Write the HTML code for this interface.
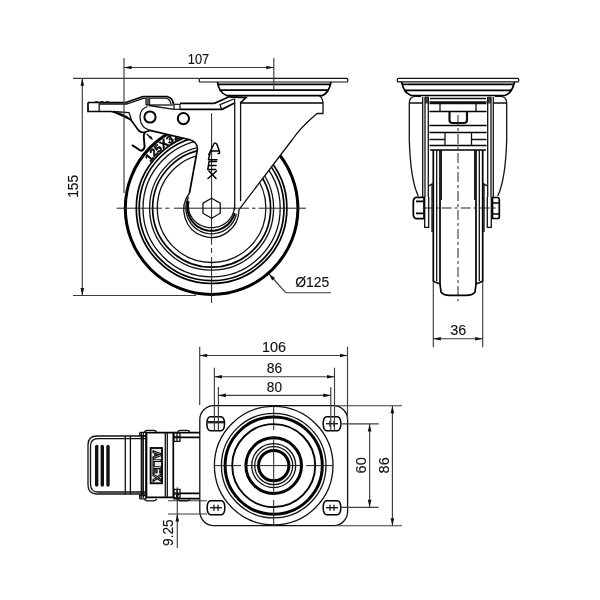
<!DOCTYPE html>
<html><head><meta charset="utf-8"><style>
html,body{margin:0;padding:0;background:#fff;width:600px;height:600px;overflow:hidden}
svg{display:block;will-change:transform}
text{font-family:"Liberation Sans",sans-serif;fill:#111;stroke:#111;stroke-width:0.12px}
</style></head><body>
<svg width="600" height="600" viewBox="0 0 600 600">
<rect width="600" height="600" fill="#fff"/>
<circle cx="211.6" cy="208.2" r="86.3" stroke="#000" stroke-width="3" fill="none"/>
<circle cx="211.6" cy="208.2" r="75.3" stroke="#000" stroke-width="1.7" fill="none"/>
<circle cx="211.6" cy="208.2" r="72.4" stroke="#000" stroke-width="1.7" fill="none"/>
<circle cx="211.6" cy="208.2" r="68.6" stroke="#111" stroke-width="1.3" fill="none"/>
<circle cx="211.6" cy="208.2" r="62" stroke="#111" stroke-width="1.3" fill="none"/>
<circle cx="211.6" cy="208.2" r="59" stroke="#000" stroke-width="1.7" fill="none"/>
<circle cx="211.6" cy="208.2" r="54.3" stroke="#111" stroke-width="1.3" fill="none"/>
<text x="152.24" y="159.79" text-anchor="middle" font-size="11" font-weight="bold" transform="rotate(309.2 152.24 159.79)" style="fill:#000;stroke:#000;stroke-width:0.55px">1</text>
<text x="156.41" y="155.09" text-anchor="middle" font-size="11" font-weight="bold" transform="rotate(313.9 156.41 155.09)" style="fill:#000;stroke:#000;stroke-width:0.55px">2</text>
<text x="160.54" y="151.10" text-anchor="middle" font-size="11" font-weight="bold" transform="rotate(318.2 160.54 151.10)" style="fill:#000;stroke:#000;stroke-width:0.55px">5</text>
<text x="165.93" y="146.70" text-anchor="middle" font-size="11" font-weight="bold" transform="rotate(323.4 165.93 146.70)" style="fill:#000;stroke:#000;stroke-width:0.55px">X</text>
<text x="171.92" y="142.68" text-anchor="middle" font-size="11" font-weight="bold" transform="rotate(328.8 171.92 142.68)" style="fill:#000;stroke:#000;stroke-width:0.55px">3</text>
<text x="177.78" y="139.47" text-anchor="middle" font-size="11" font-weight="bold" transform="rotate(333.8 177.78 139.47)" style="fill:#000;stroke:#000;stroke-width:0.55px">2</text>
<path d="M 100 55 L 100 122 L 131 120 L 139 131 L 144 132.5 L 150 130.5 L 189 139.5 Q 197.5 141.5 197.5 149 L 189.5 193 A 27.6 27.6 0 1 0 239 209.6 L 292 140 Q 300 128 317 113.5 L 323 113.5 L 360 113.5 L 360 55 Z" fill="#fff" stroke="none"/>
<line x1="116.7" y1="208.2" x2="162" y2="208.2" stroke="#222" stroke-width="1"/>
<line x1="165.3" y1="208.2" x2="169.3" y2="208.2" stroke="#222" stroke-width="1"/>
<line x1="174" y1="208.2" x2="249" y2="208.2" stroke="#222" stroke-width="1"/>
<line x1="252" y1="208.2" x2="255.5" y2="208.2" stroke="#222" stroke-width="1"/>
<line x1="258.5" y1="208.2" x2="306" y2="208.2" stroke="#222" stroke-width="1"/>
<line x1="211.6" y1="113.3" x2="211.6" y2="244.7" stroke="#222" stroke-width="1"/>
<line x1="211.6" y1="248" x2="211.6" y2="253" stroke="#222" stroke-width="1"/>
<line x1="211.6" y1="257" x2="211.6" y2="303" stroke="#222" stroke-width="1"/>
<path d="M 189.5 193 A 27.6 27.6 0 1 0 239 209.6" stroke="#111" stroke-width="1.3" fill="none"/>
<path d="M 188.49 196.98 L 187.38 199.63 L 186.57 202.38 L 186.07 205.21 L 185.90 208.08 L 186.05 210.95 L 186.52 213.78 L 187.30 216.55 L 188.39 219.21 L 189.77 221.73 L 191.42 224.08 L 193.32 226.23 L 195.46 228.15 L 197.80 229.82 L 200.30 231.22 L 202.95 232.33 L 205.71 233.14 L 208.54 233.63 L 211.41 233.80 L 214.28 233.65 L 217.11 233.18 L 219.88 232.39 L 222.53 231.30 L 225.05 229.92 L 227.40 228.26 L 229.55 226.35 L 231.47 224.22 L 233.14 221.88 L 234.54 219.37 L 235.64 216.72 L 236.44 213.96" stroke="#111" stroke-width="1.3" fill="none"/>
<path d="M 188.33 200.82 L 187.76 203.25 L 187.45 205.72 L 187.42 208.20 L 187.65 210.68 L 188.15 213.12 L 188.91 215.49 L 189.92 217.77 L 191.17 219.94 L 192.64 221.96 L 194.33 223.82 L 196.21 225.49 L 198.26 226.96 L 200.45 228.21 L 202.77 229.23 L 205.19 230.00 L 207.67 230.51 L 210.20 230.77 L 212.74 230.76 L 215.26 230.49 L 217.75 229.96 L 220.16 229.18 L 222.47 228.15 L 224.66 226.89 L 226.70 225.41 L 228.57 223.72 L 230.24 221.85 L 231.71 219.82 L 232.95 217.65 L 233.94 215.36 L 234.69 212.99" stroke="#000" stroke-width="2" fill="none"/>
<path d="M 188.90 201.73 L 188.51 204.08 L 188.40 206.45 L 188.57 208.82 L 189.02 211.16 L 189.74 213.44 L 190.73 215.62 L 191.97 217.70 L 193.44 219.63 L 195.14 221.40 L 197.03 222.99 L 199.10 224.37 L 201.32 225.52 L 203.66 226.45 L 206.10 227.12 L 208.60 227.54 L 211.13 227.70 L 213.67 227.59 L 216.18 227.23 L 218.63 226.61 L 221.00 225.74 L 223.25 224.63 L 225.35 223.30 L 227.28 221.75 L 229.02 220.02 L 230.54 218.12 L 231.83 216.07 L 232.87 213.90 L 233.65 211.64 L 234.16 209.32 L 234.39 206.95" stroke="#111" stroke-width="1.3" fill="none"/>
<polygon points="211.60,198.20 220.26,203.20 220.26,213.20 211.60,218.20 202.94,213.20 202.94,203.20" stroke="#111" stroke-width="1.3" fill="none"/>
<path d="M 189 139.5 Q 197.5 141.5 197.5 149 L 189.5 193" stroke="#000" stroke-width="1.7" fill="none"/>
<path d="M 234.7 103 L 234.7 210" stroke="#111" stroke-width="1.3" fill="none"/>
<path d="M 240.6 101.7 L 240.6 201" stroke="#111" stroke-width="1.3" fill="none"/>
<path d="M 239 209.6 L 292 140 Q 300 128 317 113.5 L 323 113.5 L 323 102 Q 322 96.5 318.5 95.5" stroke="#111" stroke-width="1.3" fill="none"/>
<path d="M 240.6 103 L 323 103" stroke="#000" stroke-width="1.7" fill="none"/>
<path d="M 208.8 154.5 L 213.8 144 Q 215.5 142 217 144.5 L 219.5 151.5 Q 220 154 218 153.5 M 210.5 151 L 218 151" stroke="#000" stroke-width="1.5" fill="none" stroke-linecap="round" stroke-linejoin="round"/>
<path d="M 210 152.5 L 208.5 159.8 L 217 159.8" stroke="#000" stroke-width="1.5" fill="none" stroke-linecap="round" stroke-linejoin="round"/>
<path d="M 216.5 161.5 L 209 161.5 L 207.8 169.5 L 215.8 169.5 M 208.5 165.5 L 216 165.5" stroke="#000" stroke-width="1.5" fill="none" stroke-linecap="round" stroke-linejoin="round"/>
<path d="M 208 178.5 L 216.5 171 M 209 171 L 216 178.5" stroke="#000" stroke-width="1.5" fill="none" stroke-linecap="round" stroke-linejoin="round"/>
<rect x="199.2" y="78.3" width="148.6" height="3.7" rx="1" fill="#fff" stroke="#111" stroke-width="1.2"/>
<path d="M 217.5 82 Q 219 93 227 95.7 L 322 95.7 Q 329 93 331 82" stroke="#000" stroke-width="1.7" fill="none"/>
<path d="M 217 84.4 L 330.5 84.4" stroke="#000" stroke-width="1.7" fill="none"/>
<path d="M 219.5 90.2 L 328.5 90.2" stroke="#000" stroke-width="1.7" fill="none"/>
<path d="M 88 102.5 L 126 102.5 L 143 96.5 L 167 96.5 Q 172.5 97.5 173.5 104" stroke="#000" stroke-width="1.7" fill="none"/>
<path d="M 99.2 104 L 126.5 104 L 144 98.2 L 166 98.2 Q 170 99 171 104" stroke="#111" stroke-width="1.3" fill="none"/>
<path d="M 88 102.5 L 88 111.5 L 111 111.5 Q 124 113.5 131 120 L 139 131 Q 141 132.5 144 132.5 L 150 130.5 L 189 139.5" stroke="#000" stroke-width="1.7" fill="none"/>
<path d="M 99.2 102.5 L 99.2 111.5" stroke="#111" stroke-width="1.3" fill="none"/>
<path d="M 94.2 103 A 2.3 2.1 0 0 1 98.8 103 Z" fill="#111"/>
<path d="M 99.7 103 A 2.3 2.1 0 0 1 104.3 103 Z" fill="#111"/>
<path d="M 105.2 103 A 2.3 2.1 0 0 1 109.8 103 Z" fill="#111"/>
<path d="M 113 111.5 L 129 112.5 L 131.5 120" stroke="#111" stroke-width="1.3" fill="none"/>
<path d="M 113 111.5 L 131.5 120" stroke="#000" stroke-width="1.7" fill="none"/>
<path d="M 146 98 L 146 105 M 149.5 98 L 149.5 105" stroke="#111" stroke-width="1.3" fill="none"/>
<rect x="146" y="98" width="3.5" height="7" fill="#555"/>
<path d="M 146 105 L 173.5 105" stroke="#111" stroke-width="1.3" fill="none"/>
<path d="M 149 105.5 L 174 109.3" stroke="#111" stroke-width="1.3" fill="none"/>
<rect x="174" y="104.3" width="6" height="5" fill="#fff" stroke="#111" stroke-width="1.2"/>
<path d="M 180 103.3 L 214.5 103.3 L 229 96.8 L 246 97.6 L 240.8 102.5 M 180 109.3 L 222 109.3 L 234.6 103" stroke="#000" stroke-width="1.7" fill="none"/>
<path d="M 220 104.6 L 233.8 99 M 219.8 104.3 L 221.5 109 M 234.6 98.5 L 234.6 104" stroke="#111" stroke-width="1.3" fill="none"/>
<path d="M 147.5 106.5 Q 140 109 140 117 Q 140.5 125 145 128 L 150 130.5" stroke="#111" stroke-width="1.3" fill="none"/>
<circle cx="150" cy="117" r="5.6" stroke="#000" stroke-width="2" fill="none"/>
<circle cx="183.4" cy="118.6" r="5.6" stroke="#000" stroke-width="2" fill="none"/>
<path d="M 145 132.5 Q 143.5 134 143.8 137 L 144.6 147 Q 144 150 140.8 150.8 L 132.5 145.4" stroke="#000" stroke-width="1.9" fill="none" stroke-linecap="round"/>
<path d="M 146.7 134 L 152 139" stroke="#111" stroke-width="1.3" fill="none"/>
<path d="M153.00 140.00 L148.69 137.95 L150.95 135.69 Z" fill="#111" stroke="none"/>
<line x1="124" y1="58" x2="124" y2="193" stroke="#3c3c3c" stroke-width="1.15" fill="none"/>
<line x1="273.8" y1="58" x2="273.8" y2="89" stroke="#3c3c3c" stroke-width="1.15" fill="none"/>
<line x1="124" y1="67.5" x2="273.8" y2="67.5" stroke="#3c3c3c" stroke-width="1.15" fill="none"/>
<path d="M124.00 67.50 L131.50 65.70 L131.50 69.30 Z" fill="#111" stroke="none"/>
<path d="M273.80 67.50 L266.30 69.30 L266.30 65.70 Z" fill="#111" stroke="none"/>
<text x="198.5" y="63.6" font-size="14.5" text-anchor="middle" textLength="21.5" lengthAdjust="spacingAndGlyphs" >107</text>
<line x1="73" y1="78.3" x2="199" y2="78.3" stroke="#3c3c3c" stroke-width="1.15" fill="none"/>
<line x1="73" y1="295.5" x2="196" y2="295.5" stroke="#3c3c3c" stroke-width="1.15" fill="none"/>
<line x1="82.3" y1="78.3" x2="82.3" y2="295.5" stroke="#3c3c3c" stroke-width="1.15" fill="none"/>
<path d="M82.30 78.30 L84.10 85.80 L80.50 85.80 Z" fill="#111" stroke="none"/>
<path d="M82.30 295.50 L80.50 288.00 L84.10 288.00 Z" fill="#111" stroke="none"/>
<text x="78.4" y="186.3" font-size="14.5" text-anchor="middle" textLength="23" lengthAdjust="spacingAndGlyphs" transform="rotate(-90 78.4 186.3)" >155</text>
<line x1="269" y1="274" x2="285.7" y2="292.7" stroke="#3c3c3c" stroke-width="1.15" fill="none"/>
<line x1="285.7" y1="292.7" x2="331" y2="292.7" stroke="#3c3c3c" stroke-width="1.15" fill="none"/>
<path d="M269.00 274.00 L275.15 277.89 L272.17 280.55 Z" fill="#111" stroke="none"/>
<text x="295.3" y="286.9" font-size="14.5" text-anchor="start" textLength="34" lengthAdjust="spacingAndGlyphs" >Ø125</text>
<rect x="397.3" y="78.3" width="121.4" height="3.6" rx="1" fill="#fff" stroke="#111" stroke-width="1.2"/>
<path d="M 401.5 82 Q 404 93 411 95.5 L 505 95.5 Q 512 93 514.5 82" stroke="#000" stroke-width="1.7" fill="none"/>
<path d="M 402 84.4 L 514 84.4 M 404 90.3 L 512 90.3" stroke="#000" stroke-width="1.7" fill="none"/>
<path d="M 421 96.3 L 415 96.3 Q 409.3 97 409.3 103 L 409.3 140 Q 410.5 180 418.3 196 M 409.3 103 L 422.7 103" stroke="#111" stroke-width="1.3" fill="none"/>
<path d="M 495 96.3 L 501 96.3 Q 506.7 97 506.7 103 L 506.7 140 Q 505.5 180 497.7 196 M 506.7 103 L 493.3 103" stroke="#111" stroke-width="1.3" fill="none"/>
<rect x="425" y="96.5" width="3.5" height="7" fill="#444"/>
<rect x="487.5" y="96.5" width="3.5" height="7" fill="#444"/>
<path d="M 422.7 97 L 422.7 197" stroke="#111" stroke-width="1.3" fill="none"/>
<path d="M 425 97 L 425 197" stroke="#111" stroke-width="1.3" fill="none"/>
<path d="M 428.3 97 L 428.3 197" stroke="#111" stroke-width="1.3" fill="none"/>
<path d="M 493.3 97 L 493.3 197" stroke="#111" stroke-width="1.3" fill="none"/>
<path d="M 491 97 L 491 197" stroke="#111" stroke-width="1.3" fill="none"/>
<path d="M 487.7 97 L 487.7 197" stroke="#111" stroke-width="1.3" fill="none"/>
<path d="M 424.7 197 L 424.7 227.3 L 428.7 227.3 L 428.7 197" stroke="#111" stroke-width="1.3" fill="none"/>
<path d="M 428.7 186 L 432 184 L 432 232" stroke="#111" stroke-width="1.3" fill="none"/>
<path d="M 491.3 197 L 491.3 227.3 L 487.3 227.3 L 487.3 197" stroke="#111" stroke-width="1.3" fill="none"/>
<path d="M 487.3 186 L 484 184 L 484 232" stroke="#111" stroke-width="1.3" fill="none"/>
<path d="M 416 197.3 L 424 197.3 L 424 218.7 L 416 218.7 Q 413.3 218 413.3 214 L 413.3 202 Q 413.3 198 416 197.3 M 416 201.3 L 424 201.3 M 416 213.3 L 424 213.3" stroke="#000" stroke-width="1.7" fill="none"/>
<path d="M 492.5 197.5 L 498 197.5 Q 499.3 198 499.3 199.5 L 499.3 216.5 Q 499.3 218.5 498 218.5 L 492.5 218.5 Z M 492.5 203 L 499.3 203 M 492.5 214 L 499.3 214" stroke="#000" stroke-width="1.7" fill="none"/>
<path d="M 430 98.5 L 486 98.5" stroke="#111" stroke-width="1.3" fill="none"/>
<path d="M 429.5 102 L 486.5 102 M 429.5 103.5 L 486.5 103.5" stroke="#111" stroke-width="1.3" fill="none"/>
<path d="M 440 103.5 L 440 111.5 M 476 103.5 L 476 111.5" stroke="#111" stroke-width="1.3" fill="none"/>
<path d="M 429.5 111.5 L 486.5 111.5 M 429.5 125.5 L 486.5 125.5 M 429.5 132.5 L 486.5 132.5" stroke="#000" stroke-width="1.7" fill="none"/>
<path d="M 429.5 139.5 L 445 139.5 M 471.5 139.5 L 486.5 139.5" stroke="#111" stroke-width="1.3" fill="none"/>
<path d="M 429.5 145.5 L 486.5 145.5" stroke="#000" stroke-width="1.7" fill="none"/>
<path d="M 445 132.5 L 445 145.5 M 471.5 132.5 L 471.5 145.5" stroke="#111" stroke-width="1.3" fill="none"/>
<path d="M 430 150 L 486 150" stroke="#000" stroke-width="1.7" fill="none"/>
<path d="M 449.5 111.5 L 449.5 120 Q 449.5 123 452.5 123 L 464 123 Q 467 123 467 120 L 467 111.5" stroke="#111" stroke-width="2.2" fill="none"/>
<path d="M 433.3 150 L 433.3 281.3 L 440 284 L 441 292 Q 443 295.3 450 295.3 L 466 295.3 Q 473 295.3 475 292 L 476 284 L 482.7 281.3 L 482.7 150" stroke="#000" stroke-width="1.7" fill="none"/>
<path d="M 436.7 150 L 436.7 281 M 479.3 150 L 479.3 281" stroke="#111" stroke-width="1.3" fill="none"/>
<path d="M 440 150 L 440 284 M 476 150 L 476 284" stroke="#000" stroke-width="1.7" fill="none"/>
<path d="M 441.3 150 L 441.3 200 M 474.7 150 L 474.7 200" stroke="#111" stroke-width="1.3" fill="none"/>
<line x1="458" y1="115" x2="458" y2="301.3" stroke="#222" stroke-width="1" stroke-dasharray="10 3 3 3"/>
<line x1="422.7" y1="208" x2="500" y2="208" stroke="#222" stroke-width="1" stroke-dasharray="10 3 3 3"/>
<line x1="433.3" y1="282" x2="433.3" y2="347.3" stroke="#3c3c3c" stroke-width="1.15" fill="none"/>
<line x1="482.7" y1="282" x2="482.7" y2="347.3" stroke="#3c3c3c" stroke-width="1.15" fill="none"/>
<line x1="433.3" y1="338.7" x2="482.7" y2="338.7" stroke="#3c3c3c" stroke-width="1.15" fill="none"/>
<path d="M433.30 338.70 L440.80 336.90 L440.80 340.50 Z" fill="#111" stroke="none"/>
<path d="M482.70 338.70 L475.20 340.50 L475.20 336.90 Z" fill="#111" stroke="none"/>
<text x="458.3" y="335" font-size="14.5" text-anchor="middle" textLength="16" lengthAdjust="spacingAndGlyphs" >36</text>
<rect x="199.8" y="405.6" width="147.8" height="120" rx="14" fill="#fff" stroke="#111" stroke-width="1.3"/>
<circle cx="273.7" cy="465.6" r="59.3" stroke="#111" stroke-width="1.3" fill="none"/>
<circle cx="273.7" cy="465.6" r="52.3" stroke="#111" stroke-width="1.3" fill="none"/>
<circle cx="273.7" cy="465.6" r="48.6" stroke="#000" stroke-width="3" fill="none"/>
<circle cx="273.7" cy="465.6" r="41.5" stroke="#000" stroke-width="1.9" fill="none"/>
<circle cx="273.7" cy="465.6" r="27.8" stroke="#000" stroke-width="3" fill="none"/>
<circle cx="273.7" cy="465.6" r="22" stroke="#111" stroke-width="1.3" fill="none"/>
<circle cx="273.7" cy="465.6" r="19" stroke="#111" stroke-width="1.3" fill="none"/>
<circle cx="273.7" cy="465.6" r="15.2" stroke="#000" stroke-width="3" fill="none"/>
<line x1="214.3" y1="465.6" x2="241" y2="465.6" stroke="#222" stroke-width="1"/>
<line x1="245" y1="465.6" x2="302" y2="465.6" stroke="#222" stroke-width="1"/>
<line x1="306" y1="465.6" x2="333" y2="465.6" stroke="#222" stroke-width="1"/>
<line x1="273.7" y1="406" x2="273.7" y2="430" stroke="#222" stroke-width="1"/>
<line x1="273.7" y1="436" x2="273.7" y2="495" stroke="#222" stroke-width="1"/>
<line x1="273.7" y1="500" x2="273.7" y2="526" stroke="#222" stroke-width="1"/>
<path d="M 210.2 416.7 L 221.2 416.7 Q 224.5 417.2 224.5 423.7 Q 224.5 430.2 221.2 430.7 L 210.2 430.7 Q 206.89999999999998 430.2 206.89999999999998 423.7 Q 206.89999999999998 417.2 210.2 416.7 Z" fill="#fff" stroke="#000" stroke-width="1.5"/>
<path d="M 326.5 416.7 L 337.5 416.7 Q 340.8 417.2 340.8 423.7 Q 340.8 430.2 337.5 430.7 L 326.5 430.7 Q 323.2 430.2 323.2 423.7 Q 323.2 417.2 326.5 416.7 Z" fill="#fff" stroke="#000" stroke-width="1.5"/>
<path d="M 210.5 500.7 L 221.5 500.7 Q 224.8 501.2 224.8 507.7 Q 224.8 514.2 221.5 514.7 L 210.5 514.7 Q 207.2 514.2 207.2 507.7 Q 207.2 501.2 210.5 500.7 Z" fill="#fff" stroke="#000" stroke-width="1.5"/>
<path d="M 326.5 500.7 L 337.5 500.7 Q 340.8 501.2 340.8 507.7 Q 340.8 514.2 337.5 514.7 L 326.5 514.7 Q 323.2 514.2 323.2 507.7 Q 323.2 501.2 326.5 500.7 Z" fill="#fff" stroke="#000" stroke-width="1.5"/>
<rect x="207.5" y="421" width="16.5" height="2.4" fill="#222"/>
<line x1="326" y1="423.7" x2="338" y2="423.7" stroke="#111" stroke-width="1.3" fill="none"/>
<line x1="330" y1="420.7" x2="330" y2="426.7" stroke="#111" stroke-width="1.3" fill="none"/>
<line x1="334" y1="420.7" x2="334" y2="426.7" stroke="#111" stroke-width="1.3" fill="none"/>
<line x1="210" y1="507.7" x2="222" y2="507.7" stroke="#111" stroke-width="1.3" fill="none"/>
<line x1="214" y1="504.7" x2="214" y2="510.7" stroke="#111" stroke-width="1.3" fill="none"/>
<line x1="218" y1="504.7" x2="218" y2="510.7" stroke="#111" stroke-width="1.3" fill="none"/>
<line x1="326" y1="507.7" x2="338" y2="507.7" stroke="#111" stroke-width="1.3" fill="none"/>
<line x1="330" y1="504.7" x2="330" y2="510.7" stroke="#111" stroke-width="1.3" fill="none"/>
<line x1="334" y1="504.7" x2="334" y2="510.7" stroke="#111" stroke-width="1.3" fill="none"/>
<line x1="199.7" y1="346.7" x2="199.7" y2="405" stroke="#3c3c3c" stroke-width="1.15" fill="none"/>
<line x1="347.5" y1="346.7" x2="347.5" y2="420" stroke="#3c3c3c" stroke-width="1.15" fill="none"/>
<line x1="199.7" y1="355.5" x2="347.5" y2="355.5" stroke="#3c3c3c" stroke-width="1.15" fill="none"/>
<path d="M199.70 355.50 L207.20 353.70 L207.20 357.30 Z" fill="#111" stroke="none"/>
<path d="M347.50 355.50 L340.00 357.30 L340.00 353.70 Z" fill="#111" stroke="none"/>
<text x="274" y="352.2" font-size="14.5" text-anchor="middle" textLength="24" lengthAdjust="spacingAndGlyphs" >106</text>
<line x1="214.4" y1="367.7" x2="214.4" y2="431" stroke="#3c3c3c" stroke-width="1.15" fill="none"/>
<line x1="334.5" y1="367.7" x2="334.5" y2="431" stroke="#3c3c3c" stroke-width="1.15" fill="none"/>
<line x1="214.4" y1="376.7" x2="334.5" y2="376.7" stroke="#3c3c3c" stroke-width="1.15" fill="none"/>
<path d="M214.40 376.70 L221.90 374.90 L221.90 378.50 Z" fill="#111" stroke="none"/>
<path d="M334.50 376.70 L327.00 378.50 L327.00 374.90 Z" fill="#111" stroke="none"/>
<text x="274.5" y="373" font-size="14.5" text-anchor="middle" textLength="15.4" lengthAdjust="spacingAndGlyphs" >86</text>
<line x1="218.4" y1="387" x2="218.4" y2="431" stroke="#3c3c3c" stroke-width="1.15" fill="none"/>
<line x1="330.8" y1="387" x2="330.8" y2="431" stroke="#3c3c3c" stroke-width="1.15" fill="none"/>
<line x1="218.4" y1="395.4" x2="330.8" y2="395.4" stroke="#3c3c3c" stroke-width="1.15" fill="none"/>
<path d="M218.40 395.40 L225.90 393.60 L225.90 397.20 Z" fill="#111" stroke="none"/>
<path d="M330.80 395.40 L323.30 397.20 L323.30 393.60 Z" fill="#111" stroke="none"/>
<text x="274.4" y="391.8" font-size="14.5" text-anchor="middle" textLength="15.2" lengthAdjust="spacingAndGlyphs" >80</text>
<line x1="340" y1="423.9" x2="378.7" y2="423.9" stroke="#3c3c3c" stroke-width="1.15" fill="none"/>
<line x1="340" y1="507.3" x2="378.7" y2="507.3" stroke="#3c3c3c" stroke-width="1.15" fill="none"/>
<line x1="369.6" y1="423.9" x2="369.6" y2="507.3" stroke="#3c3c3c" stroke-width="1.15" fill="none"/>
<path d="M369.60 423.90 L371.40 431.40 L367.80 431.40 Z" fill="#111" stroke="none"/>
<path d="M369.60 507.30 L367.80 499.80 L371.40 499.80 Z" fill="#111" stroke="none"/>
<text x="365.7" y="465.3" font-size="14.5" text-anchor="middle" textLength="16.2" lengthAdjust="spacingAndGlyphs" transform="rotate(-90 365.7 465.3)" >60</text>
<line x1="334" y1="405.7" x2="402" y2="405.7" stroke="#3c3c3c" stroke-width="1.15" fill="none"/>
<line x1="334" y1="525.7" x2="402" y2="525.7" stroke="#3c3c3c" stroke-width="1.15" fill="none"/>
<line x1="392.4" y1="405.7" x2="392.4" y2="525.7" stroke="#3c3c3c" stroke-width="1.15" fill="none"/>
<path d="M392.40 405.70 L394.20 413.20 L390.60 413.20 Z" fill="#111" stroke="none"/>
<path d="M392.40 525.70 L390.60 518.20 L394.20 518.20 Z" fill="#111" stroke="none"/>
<text x="389.1" y="465.3" font-size="14.5" text-anchor="middle" textLength="16.2" lengthAdjust="spacingAndGlyphs" transform="rotate(-90 389.1 465.3)" >86</text>
<line x1="168" y1="500.7" x2="207" y2="500.7" stroke="#3c3c3c" stroke-width="1.15" fill="none"/>
<line x1="168" y1="514" x2="207" y2="514" stroke="#3c3c3c" stroke-width="1.15" fill="none"/>
<line x1="177.3" y1="487.3" x2="177.3" y2="548" stroke="#3c3c3c" stroke-width="1.15" fill="none"/>
<path d="M177.30 514.00 L179.10 521.50 L175.50 521.50 Z" fill="#111" stroke="none"/>
<path d="M177.30 500.70 L175.50 493.20 L179.10 493.20 Z" fill="#111" stroke="none"/>
<text x="172.9" y="532.6" font-size="14.5" text-anchor="middle" textLength="26.6" lengthAdjust="spacingAndGlyphs" transform="rotate(-90 172.9 532.6)" >9.25</text>
<path d="M 146.7 436 L 97 436 Q 88 436 88 445 L 88 485 Q 88 494 97 494 L 146.7 494" fill="#fff" stroke="#111" stroke-width="1.3"/>
<path d="M 146.7 438.7 L 98 438.7 Q 90.5 438.7 90.5 446 L 90.5 484 Q 90.5 492 98 492 L 146.7 492" stroke="#111" stroke-width="1.3" fill="none"/>
<line x1="96.7" y1="446.5" x2="96.7" y2="485" stroke="#111" stroke-width="3.4" stroke-linecap="round"/>
<line x1="102.3" y1="446.5" x2="102.3" y2="485" stroke="#111" stroke-width="3.4" stroke-linecap="round"/>
<line x1="108" y1="446.5" x2="108" y2="485" stroke="#111" stroke-width="3.4" stroke-linecap="round"/>
<path d="M 125.3 436 L 125.3 494 M 130.4 436 L 130.4 494 M 142 436 L 142 494 M 146.7 432.7 L 146.7 498" stroke="#111" stroke-width="1.3" fill="none"/>
<path d="M 146 432.7 L 173.3 432.7 L 173.3 497.3 L 146 497.3 Z" stroke="#000" stroke-width="1.7" fill="none"/>
<path d="M 165.3 432.7 L 165.3 497.3 M 167.3 432.7 L 167.3 497.3" stroke="#111" stroke-width="1.3" fill="none"/>
<rect x="150.6" y="448" width="11.4" height="35.3" fill="#e8e8e8" stroke="#000" stroke-width="1.8"/>
<text x="153.2" y="450.5" font-size="11.5" font-weight="bold" transform="rotate(90 153.2 450.5)" textLength="31" lengthAdjust="spacingAndGlyphs" style="fill:#fff;stroke:#000;stroke-width:1.1px">ALEX</text>
<path d="M 173.3 432.7 L 199.8 432.7 M 173.3 437.3 L 199.8 437.3 M 173.3 493.3 L 199.8 493.3 M 173.3 498.7 L 199.8 498.7" stroke="#000" stroke-width="1.7" fill="none"/>
<path d="M 144.3 432.4 Q 145 430.4 147 430.4 L 154 430.4 Q 156 430.4 156.6 432.4 M 177.6 432.4 Q 178.3 430.4 180.3 430.4 L 187.3 430.4 Q 189.3 430.4 189.8 432.4" stroke="#111" stroke-width="1.3" fill="none"/>
<path d="M 144.3 498.8 Q 145 500.8 147 500.8 L 154 500.8 Q 156 500.8 156.6 498.8 M 177.6 498.8 Q 178.3 500.8 180.3 500.8 L 187.3 500.8 Q 189.3 500.8 189.8 498.8" stroke="#111" stroke-width="1.3" fill="none"/>
<path d="M 139.7 432.4 L 146.7 432.4 M 139.7 432.4 L 139.7 435.7 L 147 435.7" stroke="#111" stroke-width="1.3" fill="none"/>
<path d="M 139.7 498.8 L 146.7 498.8 M 139.7 498.8 L 139.7 495.5 L 147 495.5" stroke="#111" stroke-width="1.3" fill="none"/>
<path d="M 174 432.7 L 180 432.7 L 180 441.3 L 174 441.3 Z M 177 432.7 L 177 441.3 M 174 437 L 180 437" stroke="#111" stroke-width="1.3" fill="none"/>
<path d="M 174 489.3 L 180 489.3 L 180 498 L 174 498 Z M 177 489.3 L 177 498 M 174 493.7 L 180 493.7" stroke="#111" stroke-width="1.3" fill="none"/>
<path d="M 141.3 432.7 L 141.3 498 M 143.3 432.7 L 143.3 498" stroke="#111" stroke-width="1.3" fill="none"/>
</svg></body></html>
